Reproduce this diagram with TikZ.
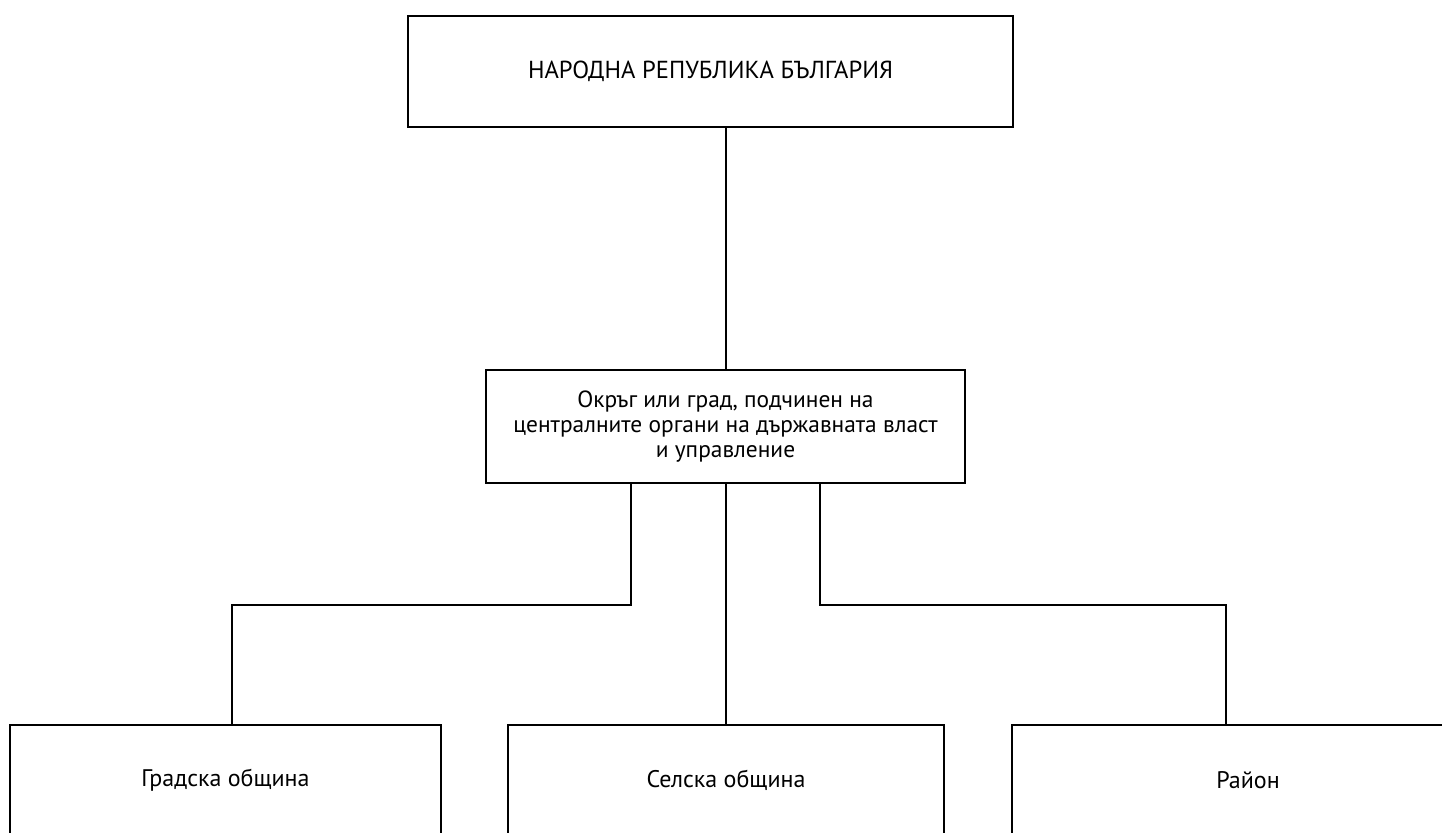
\documentclass[tikz,border=0pt]{standalone}
\usepackage{fontspec}
\setmainfont{PT Sans}
\usetikzlibrary{positioning}
\tikzset{
	unit/.style={draw, line width=1pt, align=center, inner sep=0pt},
	link/.style={line width=1pt},
}
\begin{document}
\begin{tikzpicture}[x=0.5pt,y=-0.5pt]
	\clip (0,0) rectangle (1442,833);
	\node[unit, minimum width=302.5pt, minimum height=55.5pt, font=\fontsize{12.3}{14}\selectfont] (republic) at (710.5,71.5) {НАРОДНА РЕПУБЛИКА БЪЛГАРИЯ};
	\node[unit, minimum width=239.5pt, minimum height=56.5pt, font=\fontsize{11.7}{12.3}\selectfont] (okrug) at (725.5,426.5) {Окръг или град, подчинен на\\централните органи на държавната власт\\и управление};
	
	\node[unit, minimum width=215.5pt, minimum height=55pt, font=\fontsize{12}{14}\selectfont] (gorod) at (225.5,780) {Градска община};
	\node[unit, minimum width=218pt, minimum height=55pt, font=\fontsize{12}{14}\selectfont] (selo) at (726,780) {Селска община};
	\node[unit, minimum width=236pt, minimum height=55pt, font=\fontsize{12}{14}\selectfont] (rayon) at (1248,780) {Район};
	
	\coordinate (lfoot) at (631,0);
	\coordinate (rfoot) at (820,0);
	\coordinate (lbend) at (232,605);
	\coordinate (rbend) at (1226,605);
	
	\draw[link] (okrug.north) -- (okrug.north |- republic.south);
	\draw[link] (okrug.south) -- (okrug.south |- selo.north);
	\draw[link] (okrug.south -| lfoot) |- (lbend) -- (lbend |- gorod.north);
	\draw[link] (okrug.south -| rfoot) |- (rbend) -- (rbend |- rayon.north);
\end{tikzpicture}
\end{document}
